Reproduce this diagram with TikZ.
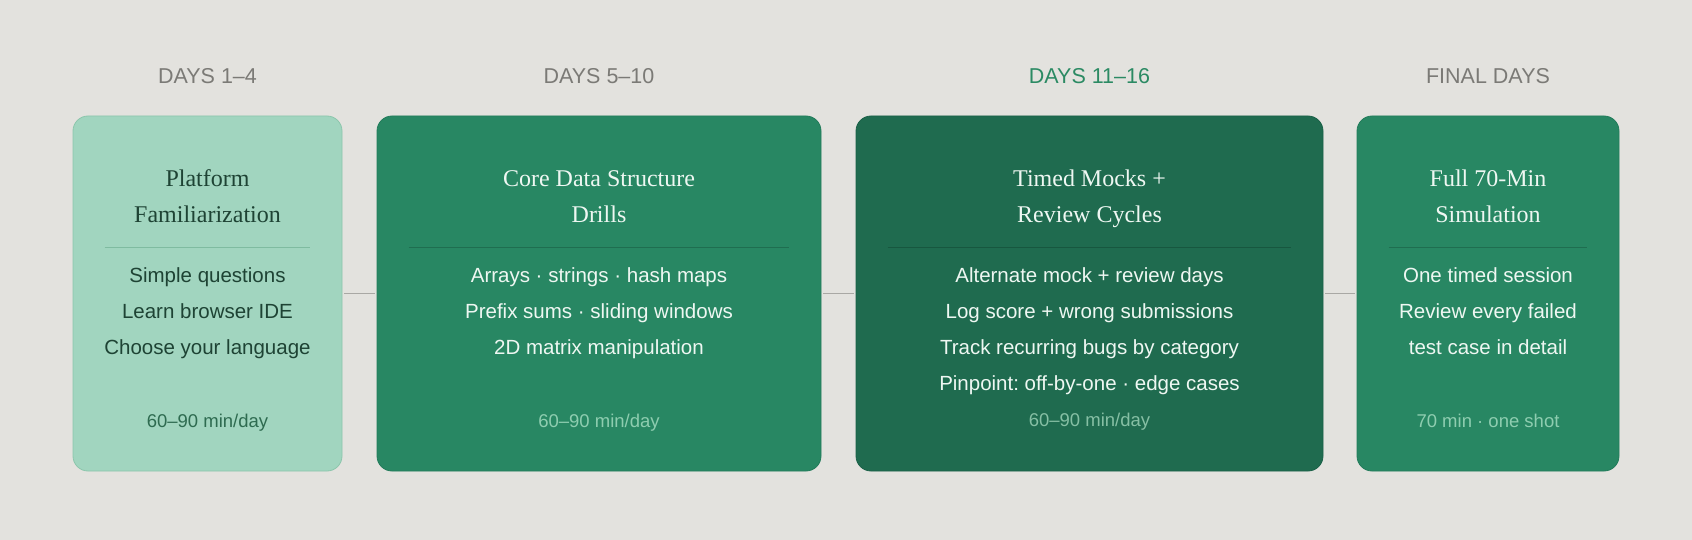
\documentclass[tikz,border=0pt]{standalone}
\usepackage{fontspec}
\setmainfont{Liberation Sans}
\newfontfamily\titlefont{Liberation Serif}
\frenchspacing
\definecolor{bg}{HTML}{E3E2DE}
\definecolor{mint}{HTML}{A1D5BF}
\definecolor{mintedge}{HTML}{8CC6AC}
\definecolor{greenA}{HTML}{288763}
\definecolor{greenAedge}{HTML}{237C5B}
\definecolor{greenB}{HTML}{1F6B4F}
\definecolor{greenBedge}{HTML}{1B6148}
\definecolor{headgray}{HTML}{7B7A76}
\definecolor{headgreen}{HTML}{2B8A63}
\definecolor{darktxt}{HTML}{1E4334}
\definecolor{darkfoot}{HTML}{2E6B50}
\definecolor{lighttxt}{HTML}{EEF7F2}
\definecolor{lightfoot}{HTML}{8ECDB0}
\definecolor{lightfootB}{HTML}{86BFA4}
\definecolor{divmint}{HTML}{7FBBA0}
\definecolor{divA}{HTML}{1F6E50}
\definecolor{divB}{HTML}{17573F}
\definecolor{conncol}{HTML}{A9A8A4}
\begin{document}
\begin{tikzpicture}[x=1pt,y=-1pt,
  phase/.style={rectangle, rounded corners=15pt, line width=0.8pt, inner sep=0pt, minimum height=355pt},
  head/.style={anchor=base, inner sep=0pt, font=\fontsize{21.5}{24}\selectfont},
  ttl/.style={anchor=base, inner sep=0pt, font=\titlefont\fontsize{24}{28}\selectfont},
  body/.style={anchor=base, inner sep=0pt, font=\fontsize{20.5}{24}\selectfont},
  foot/.style={anchor=base, inner sep=0pt, font=\fontsize{18.5}{22}\selectfont},
  conn/.style={draw=conncol, line width=1.5pt, shorten <=2pt, shorten >=2pt},
  divline/.style={line width=0.8pt}
]
\fill[bg] (0,0) rectangle (1692,540);
\useasboundingbox (0,0) rectangle (1692,540);

% boxes
\node[phase, fill=mint, draw=mintedge, minimum width=269pt] (b1) at (207.5,293.5) {};
\node[phase, fill=greenA, draw=greenAedge, minimum width=444pt] (b2) at (599,293.5) {};
\node[phase, fill=greenB, draw=greenBedge, minimum width=467pt] (b3) at (1089.5,293.5) {};
\node[phase, fill=greenA, draw=greenAedge, minimum width=262pt] (b4) at (1488,293.5) {};

% connectors
\draw[conn] (b1.east) -- (b2.west);
\draw[conn] (b2.east) -- (b3.west);
\draw[conn] (b3.east) -- (b4.west);

% dividers
\draw[divline, draw=divmint] ([xshift=32pt]b1.west |- 0,247) -- ([xshift=-32pt]b1.east |- 0,247);
\draw[divline, draw=divA] ([xshift=32pt]b2.west |- 0,247) -- ([xshift=-32pt]b2.east |- 0,247);
\draw[divline, draw=divB] ([xshift=32pt]b3.west |- 0,247) -- ([xshift=-32pt]b3.east |- 0,247);
\draw[divline, draw=divA] ([xshift=32pt]b4.west |- 0,247) -- ([xshift=-32pt]b4.east |- 0,247);

% headers
\node[head, text=headgray] (h1) at (207.5,84) {DAYS 1–4};
\node[head, text=headgray] (h2) at (599,84) {DAYS 5–10};
\node[head, text=headgreen] (h3) at (1089.5,84) {DAYS 11–16};
\node[head, text=headgray] (h4) at (1488,84) {FINAL DAYS};

% box 1
\node[ttl, text=darktxt] (t1a) at (207.5,187) {Platform};
\node[ttl, text=darktxt] (t1b) at (207.5,223) {Familiarization};
\node[body, text=darktxt] (l1a) at (207.5,282) {Simple questions};
\node[body, text=darktxt] (l1b) at (207.5,318) {Learn browser IDE};
\node[body, text=darktxt] (l1c) at (207.5,354) {Choose your language};
\node[foot, text=darkfoot] (f1) at (207.5,427) {60–90 min/day};

% box 2
\node[ttl, text=lighttxt] (t2a) at (599,187) {Core Data Structure};
\node[ttl, text=lighttxt] (t2b) at (599,223) {Drills};
\node[body, text=lighttxt] (l2a) at (599,282) {Arrays · strings · hash maps};
\node[body, text=lighttxt] (l2b) at (599,318) {Prefix sums · sliding windows};
\node[body, text=lighttxt] (l2c) at (599,354) {2D matrix manipulation};
\node[foot, text=lightfoot] (f2) at (599,427) {60–90 min/day};

% box 3
\node[ttl, text=lighttxt] (t3a) at (1089.5,187) {Timed Mocks +};
\node[ttl, text=lighttxt] (t3b) at (1089.5,223) {Review Cycles};
\node[body, text=lighttxt] (l3a) at (1089.5,282) {Alternate mock + review days};
\node[body, text=lighttxt] (l3b) at (1089.5,318) {Log score + wrong submissions};
\node[body, text=lighttxt] (l3c) at (1089.5,354) {Track recurring bugs by category};
\node[body, text=lighttxt] (l3d) at (1089.5,390) {Pinpoint: off-by-one · edge cases};
\node[foot, text=lightfootB] (f3) at (1089.5,426) {60–90 min/day};

% box 4
\node[ttl, text=lighttxt] (t4a) at (1488,187) {Full 70-Min};
\node[ttl, text=lighttxt] (t4b) at (1488,223) {Simulation};
\node[body, text=lighttxt] (l4a) at (1488,282) {One timed session};
\node[body, text=lighttxt] (l4b) at (1488,318) {Review every failed};
\node[body, text=lighttxt] (l4c) at (1488,354) {test case in detail};
\node[foot, text=lightfoot] (f4) at (1488,427) {70 min · one shot};
\end{tikzpicture}
\end{document}
